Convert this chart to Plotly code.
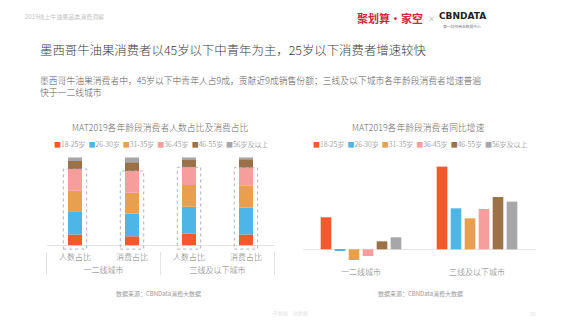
import plotly.graph_objects as go

W, H = 580, 327
FONT = "Noto Sans CJK SC"

# ---------------- data ----------------
age_groups = ["18-25岁", "26-30岁", "31-35岁", "36-45岁", "46-55岁", "56岁及以上"]
colors = ["#F15A2B", "#4DB6E6", "#E9A04E", "#F59E9B", "#9B7147", "#A7A6A8"]

share_city = ["一二线城市", "一二线城市", "三线及以下城市", "三线及以下城市"]
share_metric = ["人数占比", "消费占比", "人数占比", "消费占比"]
share_18_25 = [12.2, 10.3, 13.3, 12.2]
share_26_30 = [26.6, 25.9, 30.4, 30.8]
share_31_35 = [23.1, 23.5, 24.7, 24.7]
share_36_45 = [24.7, 24.7, 20.2, 20.5]
share_46_55 = [9.1, 9.9, 8.4, 9.6]
share_56_up = [4.3, 5.7, 3.0, 2.2]

growth_city = ["一二线城市", "三线及以下城市"]
growth_18_25 = [32.0, 82.7]
growth_26_30 = [-0.8, 41.0]
growth_31_35 = [-10.7, 31.0]
growth_36_45 = [-6.7, 40.3]
growth_46_55 = [8.0, 52.3]
growth_56_up = [12.0, 47.7]

share_series = [share_18_25, share_26_30, share_31_35, share_36_45, share_46_55, share_56_up]
growth_series = [growth_18_25, growth_26_30, growth_31_35, growth_36_45, growth_46_55, growth_56_up]

# ---------------- figure ----------------
fig = go.Figure()

L_RANGE = [-6.0, 100]
PX_PER_UNIT = 0.88
BAR_W = 0.246

base = [0.0] * len(share_city)
for name, vals, col in zip(age_groups, share_series, colors):
    fig.add_trace(go.Bar(
        x=[share_city, share_metric], y=vals, base=list(base), name=name,
        marker=dict(color=col, line=dict(width=0)),
        width=BAR_W, offset=-BAR_W / 2, offsetgroup="stack",
        xaxis="x", yaxis="y", showlegend=False, hoverinfo="skip"))
    base = [b + v for b, v in zip(base, vals)]

for name, vals, col in zip(age_groups, growth_series, colors):
    fig.add_trace(go.Bar(
        x=growth_city, y=vals, name=name,
        marker=dict(color=col, line=dict(width=0)),
        xaxis="x2", yaxis="y2", showlegend=False, hoverinfo="skip"))

# dashed boxes around 18-45 segments
n_cat = len(share_city)
hw = 0.205
span = L_RANGE[1] - L_RANGE[0]
for i in range(n_cat):
    top = share_18_25[i] + share_26_30[i] + share_31_35[i] + share_36_45[i]
    fig.add_shape(type="rect", xref="x domain", yref="y domain",
                  x0=(i + 0.5 - hw) / n_cat, x1=(i + 0.5 + hw) / n_cat,
                  y0=(-4.3 - L_RANGE[0]) / span, y1=(top - L_RANGE[0]) / span,
                  line=dict(color="#AEB0C6", width=1, dash="dot"))


def px(x):
    return x / W


def py(y):
    return 1 - y / H


def ann(text, x, y, size, color, xanchor="center", yanchor="middle", family=FONT, weight=None, **kw):
    f = dict(size=size, color=color, family=family)
    if weight is not None:
        f["weight"] = weight
    fig.add_annotation(text=text, x=px(x), y=py(y), xref="paper", yref="paper",
                       xanchor=xanchor, yanchor=yanchor, showarrow=False, borderpad=0,
                       font=f, **kw)


# header
ann("2019线上牛油果品类消费洞察", 24, 17, 6, "#C4C4C4", xanchor="left")
ann("<b>聚划算·家空</b>", 390, 18, 11, "#D0283A")
ann("×", 431, 18, 7, "#999999")
ann("<b>CBNDATA</b>", 462, 16, 9, "#222222", family="DejaVu Sans")
ann("第一财经商业数据中心", 462, 26.5, 3.8, "#777777")

ann("墨西哥牛油果消费者以45岁以下中青年为主，25岁以下消费者增速较快", 39, 50, 12.4, "#3A3A3A",
    xanchor="left", weight=300)
ann("墨西哥牛油果消费者中，45岁以下中青年人占9成，贡献近9成销售份额；三线及以下城市各年龄段消费者增速普遍",
    39, 80.5, 8.8, "#5A5A5A", xanchor="left", weight=300)
ann("快于一二线城市", 39, 92.5, 8.8, "#5A5A5A", xanchor="left", weight=300)

# chart titles
ann("MAT2019各年龄段消费者人数占比及消费占比", 160, 127, 8.8, "#666666", weight=300)
ann("MAT2019各年龄段消费者同比增速", 419, 127, 8.8, "#666666", weight=300)

legend_text = "&nbsp;&nbsp;".join(
    f'<span style="color:{c}">■</span>{g}' for g, c in zip(age_groups, colors))
ann(legend_text, 161.5, 144, 7, "#777777", weight=300)
ann(legend_text, 420.5, 144, 7, "#777777", weight=300)

# sources
ann("数据来源：CBNData消费大数据", 158, 293, 6, "#999999")
ann("数据来源：CBNData消费大数据", 420, 293, 6, "#999999")

# faint footer
ann("千数据", 280, 313, 5, "#E2E2E2")
ann("达数据", 300, 313, 5, "#E2E2E2")
ann("29", 533, 313, 5, "#E2E2E2")

# left plot area: value 100 at y=157.3px, 0.88 px per unit
l_top = 157.3
l_bottom = l_top + span * PX_PER_UNIT

fig.update_layout(
    width=W, height=H,
    margin=dict(l=0, r=0, t=0, b=0),
    paper_bgcolor="white", plot_bgcolor="white",
    barmode="group", bargap=0.276, bargroupgap=0.24,
    font=dict(family=FONT, color="#777777"),
    showlegend=False,
    xaxis=dict(domain=[px(46.5), px(274.5)], type="multicategory",
               showdividers=True, dividercolor="#E3E3E3", dividerwidth=1,
               showline=False, ticks="",
               showgrid=False, zeroline=False,
               tickfont=dict(size=8, color="#777777", weight=300)),
    yaxis=dict(domain=[py(l_bottom), py(l_top)], range=L_RANGE,
               showticklabels=False, showgrid=False, showline=False,
               zeroline=True, zerolinecolor="#E3E3E3", zerolinewidth=1),
    xaxis2=dict(domain=[px(303), px(535)], anchor="y2", ticks="",
                showline=False, showgrid=False, zeroline=False, ticklabelstandoff=3,
                tickfont=dict(size=8, color="#777777", weight=300)),
    yaxis2=dict(domain=[py(263), py(160)], anchor="x2", range=[-13.7, 89.3],
                showticklabels=False, showgrid=False,
                zeroline=True, zerolinecolor="#E6E6E6", zerolinewidth=1, showline=False),
)

fig.write_html("out.html")
